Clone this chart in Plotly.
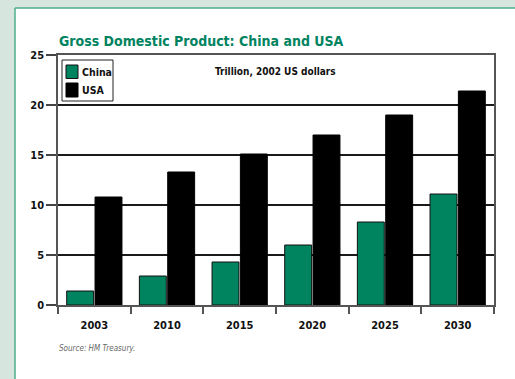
import plotly.graph_objects as go

# GDP in trillions of 2002 US dollars
years = ["2003", "2010", "2015", "2020", "2025", "2030"]
china = [1.4, 2.9, 4.3, 6.0, 8.3, 11.1]
usa = [10.8, 13.3, 15.1, 17.0, 19.0, 21.4]
y_ticks = [0, 5, 10, 15, 20, 25]

W, H = 515, 379
L, R, T, B = 58, 21, 55, 74
PW, PH = W - L - R, H - T - B

GREEN = "#00835f"
FONT = "Liberation Sans Narrow, DejaVu Sans Condensed, Roboto Condensed, Roboto, sans-serif"


def px(x):
    return (x - L) / PW


def py(y):
    return (H - B - y) / PH


fig = go.Figure()
fig.add_trace(go.Bar(x=years, y=china, name="China",
                     marker=dict(color=GREEN, line=dict(color="#111", width=1)),
                     showlegend=False))
fig.add_trace(go.Bar(x=years, y=usa, name="USA",
                     marker=dict(color="#000", line=dict(color="#000", width=1)),
                     showlegend=False))

shapes = [
    # white card with green edge
    dict(type="rect", xref="paper", yref="paper", layer="below",
         x0=px(15), x1=px(W + 5), y0=py(H + 5), y1=py(8),
         fillcolor="white", line=dict(width=0)),
    dict(type="line", xref="paper", yref="paper", layer="below",
         x0=px(15), x1=px(15), y0=py(H + 5), y1=py(8),
         line=dict(color="#4fae8c", width=1.5)),
    dict(type="line", xref="paper", yref="paper", layer="below",
         x0=px(15), x1=px(W + 5), y0=py(8), y1=py(8),
         line=dict(color="#4fae8c", width=1.5)),
    # legend box
    dict(type="rect", xref="paper", yref="paper",
         x0=px(62), x1=px(113), y0=py(101), y1=py(60),
         fillcolor="white", line=dict(color="#222", width=1)),
    dict(type="rect", xref="paper", yref="paper",
         x0=px(66), x1=px(78), y0=py(78.5), y1=py(65),
         fillcolor=GREEN, line=dict(color="#111", width=1)),
    dict(type="rect", xref="paper", yref="paper",
         x0=px(66), x1=px(78), y0=py(97), y1=py(83),
         fillcolor="#000", line=dict(color="#000", width=1)),
]

annotations = [
    dict(text="Gross Domestic Product: China and USA", xref="paper", yref="paper",
         x=px(57), y=py(41), xanchor="left", yanchor="middle", showarrow=False,
         font=dict(family=FONT, size=14, color=GREEN, weight="bold")),
    dict(text="Trillion, 2002 US dollars", xref="paper", yref="paper",
         x=px(275), y=py(72), xanchor="center", yanchor="middle", showarrow=False,
         font=dict(family=FONT, size=10, color="#111", weight="bold")),
    dict(text="China", xref="paper", yref="paper",
         x=px(80), y=py(72), xanchor="left", yanchor="middle", showarrow=False,
         font=dict(family=FONT, size=10.5, color="#111", weight="bold")),
    dict(text="USA", xref="paper", yref="paper",
         x=px(80), y=py(90), xanchor="left", yanchor="middle", showarrow=False,
         font=dict(family=FONT, size=10.5, color="#111", weight="bold")),
    dict(text="Source: HM Treasury.", xref="paper", yref="paper",
         x=px(57), y=py(348), xanchor="left", yanchor="middle", showarrow=False,
         font=dict(family=FONT, size=8, color="#666", style="italic")),
]

fig.update_layout(
    width=W, height=H,
    margin=dict(l=L, r=R, t=T, b=B, pad=0),
    paper_bgcolor="#d6e6df",
    plot_bgcolor="white",
    barmode="group", bargap=0.22, bargroupgap=0.05,
    shapes=shapes, annotations=annotations,
    xaxis=dict(type="category", tickson="boundaries", ticks="outside", ticklen=7,
               tickcolor="#555", tickwidth=1.5, ticklabelstandoff=9,
               showline=True, linecolor="#555", linewidth=1.5, mirror=True,
               showgrid=False,
               tickfont=dict(family=FONT, size=11, color="#111", weight="bold")),
    yaxis=dict(range=[0, 25], tickvals=y_ticks, ticks="outside", ticklen=10,
               tickcolor="#444", tickwidth=1.5,
               showline=True, linecolor="#555", linewidth=1.5, mirror=True,
               showgrid=True, gridcolor="#1a1a1a", gridwidth=1.5, zeroline=False,
               tickfont=dict(family=FONT, size=11, color="#111", weight="bold")),
)

fig.write_html("out.html")
